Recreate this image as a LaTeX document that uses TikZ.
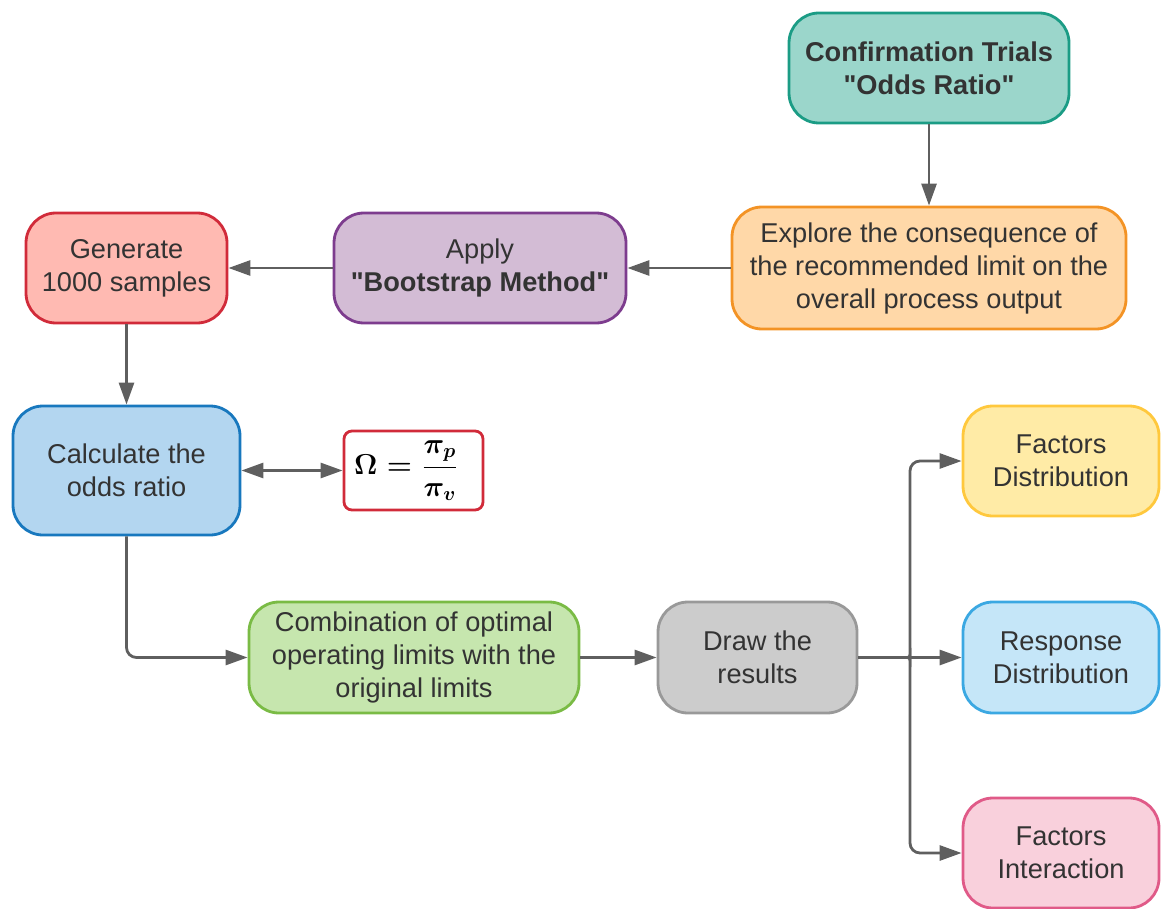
\documentclass[tikz,border=0pt]{standalone}
\usepackage{amsmath}
\usepackage{fontspec}
\setmainfont{Liberation Sans}[Ligatures=TeXOff]
\usetikzlibrary{arrows.meta}

\definecolor{txt}{HTML}{333333}
\definecolor{edge}{HTML}{5F5F5F}
\definecolor{tealF}{HTML}{9BD6CB}\definecolor{tealD}{HTML}{1B9C85}
\definecolor{orgF}{HTML}{FFD8A8}\definecolor{orgD}{HTML}{F39325}
\definecolor{purF}{HTML}{D3BCD5}\definecolor{purD}{HTML}{7D3C8E}
\definecolor{redF}{HTML}{FFBAB2}\definecolor{redD}{HTML}{D12B3A}
\definecolor{bluF}{HTML}{B3D6F0}\definecolor{bluD}{HTML}{1878BE}
\definecolor{grnF}{HTML}{C6E6AE}\definecolor{grnD}{HTML}{7ABB45}
\definecolor{gryF}{HTML}{CCCCCC}\definecolor{gryD}{HTML}{999999}
\definecolor{yelF}{HTML}{FFEBA6}\definecolor{yelD}{HTML}{FFC83D}
\definecolor{skyF}{HTML}{C5E6F8}\definecolor{skyD}{HTML}{3BA8E2}
\definecolor{pnkF}{HTML}{F9D0DC}\definecolor{pnkD}{HTML}{E05A88}

\newsavebox{\oddsbox}

\tikzset{
  box/.style n args={4}{draw=#2, fill=#1, rounded corners=15pt,
    line width=1.4pt, align=center, text=txt, inner sep=0pt,
    font=\fontsize{13.6}{16.5}\selectfont,
    minimum width=#3*0.5pt, minimum height=#4*0.5pt},
  formulabox/.style={draw=redD, fill=white, rounded corners=4pt,
    line width=1.4pt, text=txt, inner sep=0pt,
    minimum width=69.5pt, minimum height=39.5pt},
  conn/.style={draw=edge, line width=1.4pt, ->},
  bconn/.style={draw=edge, line width=1.4pt, <->}
}

\begin{document}
% odds ratio formula, typeset once
\sbox{\oddsbox}{\fontsize{14.5}{17}\selectfont\boldmath
  $\Omega = \dfrac{\pi_p}{\pi_v}$\kern7pt}%
\begin{tikzpicture}[x=0.5pt,y=-0.5pt,
  >={Triangle[length=11pt,width=7.5pt]}]

\useasboundingbox (0,0) rectangle (1161,909);

% process boxes
\node[box={tealF}{tealD}{280}{110}, font=\bfseries\fontsize{13.6}{16.5}\selectfont]
  (conf) at (929,68) {Confirmation Trials\\"Odds Ratio"};
\node[box={orgF}{orgD}{394}{122}] (expl) at (929,268)
  {Explore the consequence of\\the recommended limit on the\\overall process output};
\node[box={purF}{purD}{292}{110}] (apply) at (480,268)
  {Apply\\\textbf{"Bootstrap Method"}};
\node[box={redF}{redD}{201}{110}] (gen) at (126.5,268)
  {Generate\\1000 samples};
\node[box={bluF}{bluD}{227}{129}] (calcbox) at (126.5,470.5)
  {Calculate the\\odds ratio};
\node[formulabox] (fml) at (413.5,470.5) {\usebox{\oddsbox}};
\node[box={grnF}{grnD}{330}{111}] (comb) at (414,657.5)
  {Combination of optimal\\operating limits with the\\original limits};
\node[box={gryF}{gryD}{199}{111}] (res) at (757.5,657.5)
  {Draw the\\results};
\node[box={yelF}{yelD}{196}{110}] (fd) at (1061,461)
  {Factors\\Distribution};
\node[box={skyF}{skyD}{196}{111}] (rd) at (1061,657.5)
  {Response\\Distribution};
\node[box={pnkF}{pnkD}{196}{110}] (fi) at (1061,853)
  {Factors\\Interaction};

% connectors
\draw[conn] (conf) -- (expl);
\draw[conn] (expl) -- (apply);
\draw[conn] (apply) -- (gen);
\draw[conn] (gen) -- (calcbox);
\draw[bconn] (calcbox) -- (fml);
\draw[conn, rounded corners=5pt] (calcbox.south) |- (comb.west);
\draw[conn] (comb) -- (res);
\draw[conn] (res) -- (rd);

% brace-shaped fork towards the outcome boxes
\coordinate (fork) at (903,657.5);
\draw[conn, rounded corners=5pt] (fork) .. controls (910,657.5) .. (910,650)
  -- (910,461) -- (fd.west);
\draw[conn, rounded corners=5pt] (fork) .. controls (910,657.5) .. (910,665)
  -- (910,853) -- (fi.west);
\end{tikzpicture}
\end{document}
